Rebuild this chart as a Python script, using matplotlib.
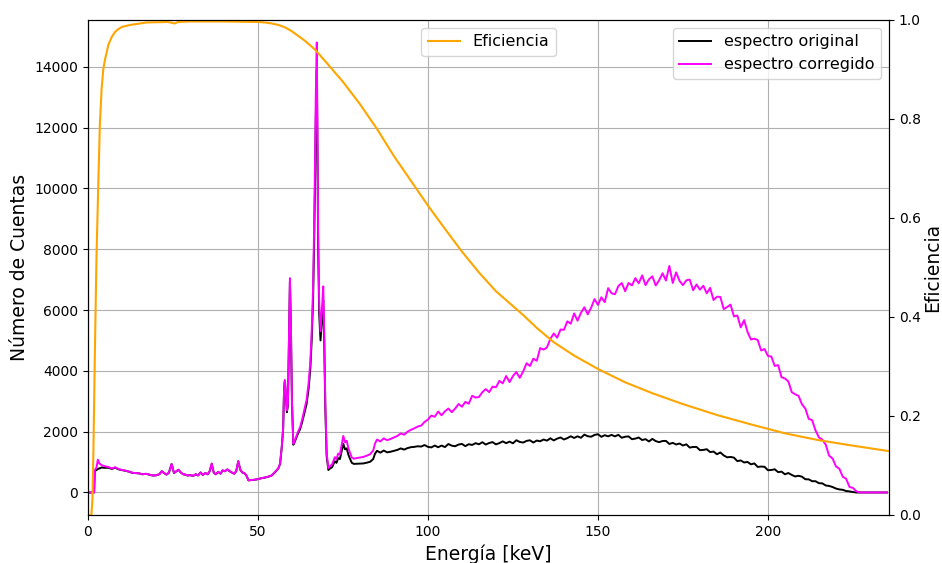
import numpy as np
import matplotlib
matplotlib.use('Agg')
import matplotlib.pyplot as plt

# ---- spectrum, low energy part (irregular steps around the peaks) ----
energia_baja = [0, 1, 1.8, 2.0, 2.5, 2.9, 3.3, 4, 5, 6, 7, 8, 9, 10, 11, 12, 13, 14, 15, 16, 17, 18, 19, 20,
                21, 21.7, 22.4, 23.1, 23.8, 24.6, 25.3, 26, 26.6, 27.3, 28, 28.6, 29.3, 30, 31, 31.7, 32.4, 33.1, 33.8, 34.5,
                35.2, 35.8, 36.4, 37, 37.6, 38.3, 39, 39.6, 40.3, 41, 41.7, 42.3, 43, 43.6, 44.2, 44.8, 45.4, 46, 46.6, 47.2,
                48, 49, 50, 51, 52, 53, 54, 55, 56, 56.5,
                57.0, 57.4, 57.7, 57.9, 58.2, 58.5, 58.8, 59.1, 59.4, 59.7, 60.0, 60.4, 60.8, 61.3, 61.8, 62.4, 63, 63.6, 64.3, 64.9,
                65.4, 65.8, 66.2, 66.5, 66.8, 67.0, 67.3, 67.5, 67.7, 68.0, 68.4, 68.8, 69.2, 69.5, 69.8, 70.2, 70.7, 71.2, 71.8, 72.6,
                73.1, 73.6, 74.1, 74.6, 75.1, 75.6, 76.1, 76.6, 77.1, 77.6, 78.2, 79, 80, 81, 82, 83, 83.9, 84.4, 85, 86,
                87, 88, 89, 90, 91, 92, 93, 94, 95, 96, 97, 98, 99, 100]

original_baja = [0, 0, 0, 700, 740, 770, 790, 820, 810, 815, 775, 815, 760, 735, 715, 686, 647, 638, 628, 598, 613, 588, 558, 563,
                 598, 697, 638, 588, 648, 936, 638, 697, 747, 658, 598, 588, 558, 568, 548, 598, 558, 657, 578, 638,
                 598, 697, 946, 648, 598, 677, 618, 727, 697, 757, 697, 657, 617, 697, 1026, 747, 657, 637, 557, 398,
                 408, 418, 438, 468, 488, 517, 556, 665, 793, 940,
                 1490, 2080, 3460, 3650, 3250, 2640, 2850, 4920, 6930, 5300, 2940, 1570, 1665, 1805, 1945, 2085, 2315, 2590, 2910, 3420,
                 4070, 5000, 6310, 8080, 10320, 12200, 13900, 11250, 8050, 5880, 5000, 5620, 6330, 4850, 2790, 1200, 740, 790, 830, 1030,
                 975, 1130, 1100, 1350, 1600, 1420, 1450, 1240, 1100, 975, 940, 945, 950, 955, 980, 1010, 1100, 1270, 1370, 1310,
                 1380, 1320, 1340, 1370, 1400, 1450, 1410, 1460, 1490, 1500, 1520, 1510, 1560, 1500]

corregido_baja = [0, 0, 0, 730, 820, 1080, 960, 900, 860, 840, 790, 830, 770, 740, 720, 690, 650, 640, 630, 600, 615, 590, 560, 565,
                  600, 700, 640, 590, 650, 940, 640, 700, 750, 660, 600, 590, 560, 570, 550, 600, 560, 660, 580, 640,
                  600, 700, 950, 650, 600, 680, 620, 730, 700, 760, 700, 660, 620, 700, 1030, 750, 660, 640, 560, 400,
                  410, 420, 440, 470, 490, 520, 560, 670, 800, 950,
                  1500, 2100, 3500, 3700, 3300, 2700, 2900, 5000, 7050, 5400, 3000, 1600, 1700, 1850, 2000, 2150, 2400, 2700, 3050, 3600,
                  4300, 5300, 6700, 8600, 11000, 13000, 14800, 12000, 8600, 6300, 5300, 6000, 6780, 5200, 3000, 1300, 800, 870, 920, 1160,
                  1100, 1280, 1250, 1550, 1860, 1650, 1700, 1450, 1300, 1150, 1110, 1130, 1150, 1170, 1210, 1260, 1380, 1600, 1740, 1680,
                  1780, 1720, 1760, 1810, 1860, 1940, 1900, 2000, 2060, 2110, 2170, 2200, 2320, 2400]

# ---- spectrum, 101..235 keV in 1 keV steps ----
energia_alta = np.arange(101, 236)

original_alta = [1483, 1544, 1488, 1543, 1493, 1594, 1539, 1520, 1576, 1596,
                 1523, 1588, 1563, 1622, 1585, 1654, 1576, 1627, 1657, 1582,
                 1624, 1681, 1621, 1672, 1618, 1718, 1662, 1642, 1697, 1716,
                 1643, 1708, 1683, 1742, 1705, 1782, 1712, 1771, 1809, 1742,
                 1788, 1849, 1793, 1848, 1798, 1902, 1850, 1834, 1893, 1916,
                 1831, 1884, 1847, 1894, 1845, 1896, 1800, 1833, 1845, 1752,
                 1772, 1807, 1725, 1754, 1678, 1762, 1690, 1654, 1693, 1696,
                 1595, 1632, 1579, 1610, 1545, 1584, 1476, 1497, 1497, 1392,
                 1400, 1423, 1329, 1346, 1258, 1316, 1218, 1156, 1169, 1146,
                 1031, 1054, 987, 1004, 925, 956, 840, 853, 845, 732,
                 740, 763, 669, 686, 598, 640, 578, 526, 549, 520,
                 435, 432, 371, 370, 305, 300, 230, 215, 180, 130,
                 100, 88, 48, 35, 15, 0, 0, 0, 0, 0,
                 0, 0, 0, 0, 0]

corregido_alta = [2530, 2490, 2660, 2540, 2670, 2760, 2640, 2760, 2910, 2820,
                  2980, 2920, 3180, 3120, 3140, 3300, 3400, 3300, 3480, 3460,
                  3670, 3590, 3830, 3630, 3830, 3960, 3770, 3980, 4250, 4160,
                  4400, 4330, 4750, 4700, 4770, 5050, 5230, 5090, 5360, 5350,
                  5630, 5550, 5890, 5650, 5910, 6090, 5860, 6080, 6360, 6170,
                  6420, 6260, 6720, 6550, 6520, 6790, 6890, 6620, 6890, 6810,
                  7050, 6880, 7140, 6820, 7010, 7110, 6810, 6980, 7210, 6970,
                  7450, 6890, 7240, 6960, 6820, 6980, 7000, 6650, 6840, 6670,
                  6800, 6550, 6730, 6330, 6440, 6430, 6030, 6100, 6180, 5790,
                  5820, 5430, 5670, 5280, 5030, 5060, 5010, 4670, 4720, 4490,
                  4470, 4160, 4190, 3790, 3750, 3650, 3300, 3230, 3180, 2900,
                  2760, 2420, 2380, 2040, 1810, 1740, 1570, 1210, 1120, 860,
                  780, 520, 450, 180, 150, 40, 0, 0, 0, 0,
                  0, 0, 0, 0, 0]

# ---- detector efficiency ----
eff_energia = [0.5, 1.0, 1.3, 1.6, 1.9, 2.2, 2.5, 3.0, 3.5, 4.0, 4.5, 5, 6, 7, 8, 9, 10, 12.4, 17.3, 23.5,
               25.5, 26.5, 30, 40, 50, 52, 54, 56, 58, 60, 62, 64, 66.8, 70, 75, 80, 85, 90, 95, 100,
               105, 110, 115, 120, 124, 128, 132, 137, 143, 150, 158, 166, 175, 185, 195, 205, 215, 225, 235.6]
eficiencia = [0.0, 0.0, 0.03, 0.13, 0.27, 0.40, 0.52, 0.66, 0.79, 0.86, 0.90, 0.92, 0.95, 0.966, 0.976, 0.982, 0.986, 0.99, 0.995, 0.996,
              0.993, 0.996, 0.997, 0.997, 0.996, 0.995, 0.993, 0.99, 0.985, 0.977, 0.967, 0.957, 0.94, 0.915, 0.875, 0.83, 0.78, 0.725, 0.675, 0.625,
              0.578, 0.532, 0.49, 0.452, 0.428, 0.404, 0.378, 0.349, 0.322, 0.295, 0.268, 0.246, 0.224, 0.202, 0.183, 0.165, 0.151, 0.14, 0.129]

energia = np.concatenate([energia_baja, energia_alta])
original = np.concatenate([original_baja, original_alta])
corregido = np.concatenate([corregido_baja, corregido_alta])

fig, ax = plt.subplots(figsize=(9.42, 5.63), dpi=100)
fig.subplots_adjust(left=0.0934, right=0.9437, top=0.9645, bottom=0.0853)

ax.plot(energia, original, color='k', lw=1.4, label='espectro original')
ax.plot(energia, corregido, color='magenta', lw=1.4, label='espectro corregido')
ax.set_xlim(0, 235.6)
ax.set_xlabel('Energía [keV]', fontsize=13.5)
ax.set_ylabel('Número de Cuentas', fontsize=13.5)
ax.grid(True)
ax.legend(loc='upper right', fontsize=11.5)

ax2 = ax.twinx()
ax2.plot(eff_energia, eficiencia, color='orange', lw=1.5, label='Eficiencia')
ax2.set_ylim(0, 1)
ax2.set_ylabel('Eficiencia', fontsize=13.5, labelpad=2)
ax2.legend(loc='upper center', fontsize=11.5)

plt.savefig('out.png', dpi=100)
